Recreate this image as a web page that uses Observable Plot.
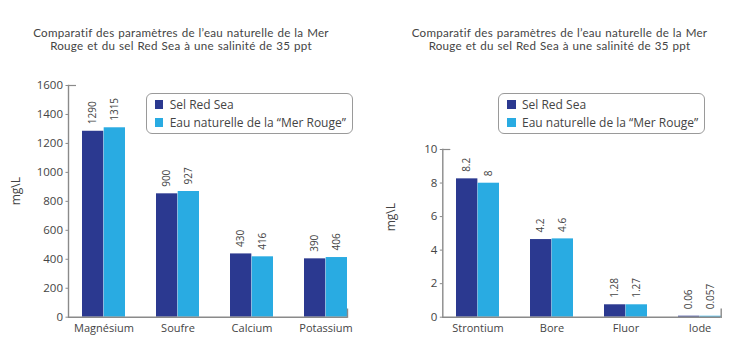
<!DOCTYPE html>
<html>
<head>
<meta charset="utf-8">
<script src="https://cdn.jsdelivr.net/npm/d3@7"></script>
<script src="https://cdn.jsdelivr.net/npm/@observablehq/plot@0.6"></script>
<style>
  html, body { margin: 0; padding: 0; background: #fff; }
  #root { position: relative; width: 738px; height: 356px; font-family: "Open Sans", sans-serif; color: #444; overflow: hidden; }
  .panel { position: absolute; top: 0; }
  .title { position: absolute; font-family: Lato, "Open Sans", sans-serif; font-size: 11.6px; line-height: 11.6px; height: 11.6px; letter-spacing: 0.25px; word-spacing: 0.6px; text-align: center; white-space: nowrap; transform: translateX(-50%); color: #444; }
  .legend { position: absolute; width: 205px; height: 39px; border: 1px solid #9a9a9a; border-radius: 6px; background: #fff; font-size: 12px; color: #444; }
  .legend .row { position: absolute; left: 8px; height: 12px; line-height: 12px; white-space: nowrap; }
  .legend .sw { display: inline-block; width: 8.5px; height: 8.5px; vertical-align: 0px; margin-right: 6.5px; }
</style>
</head>
<body>
<div id="root"></div>
<script>
// ---- data ----
const titleLines = ["Comparatif des paramètres de l’eau naturelle de la Mer", "Rouge et du sel Red Sea à une salinité de 35 ppt"];
const seriesNames = ["Sel Red Sea", "Eau naturelle de la “Mer Rouge”"];
const seriesColors = ["#2b3990", "#29abe2"];
const yLabel = "mg\\L";

const catsA = ["Magnésium", "Soufre", "Calcium", "Potassium"];
const selA = [1284, 852, 437, 403];
const eauA = [1308, 868, 417, 412];
const selLabelsA = ["1290", "900", "430", "390"];
const eauLabelsA = ["1315", "927", "416", "406"];
const ticksA = [0, 200, 400, 600, 800, 1000, 1200, 1400, 1600];

const catsB = ["Strontium", "Bore", "Fluor", "Iode"];
const selB = [8.25, 4.63, 0.74, 0.06];
const eauB = [7.99, 4.67, 0.74, 0.057];
const selLabelsB = ["8.2", "4.2", "1.28", "0.06"];
const eauLabelsB = ["8", "4.6", "1.27", "0.057"];
const ticksB = [0, 2, 4, 6, 8, 10];

// ---- chart builder ----
function chart({cats, sel, eau, selLabels, eauLabels, ticks, marginTop, marginLeft, marginRight, labelDy}) {
  const W = 369, H = 356, marginBottom = 39.3;
  const pi = 0.418, po = 0.0815;
  const range = W - marginLeft - marginRight;
  const step = range / (cats.length - pi + 2 * po);
  const bw = step * (1 - pi);
  const half = bw / 2;
  const plotH = H - marginTop - marginBottom;
  const rows = cats.map((c, i) => ({cat: c, sel: sel[i], eau: eau[i], sl: selLabels[i], el: eauLabels[i]}));
  const yMax = ticks[ticks.length - 1];
  const axisColor = "#8a8a8a";
  return Plot.plot({
    width: W, height: H,
    marginTop, marginBottom, marginLeft, marginRight,
    style: {fontFamily: "Open Sans, sans-serif", fontSize: "11.5px", color: "#444", background: "transparent"},
    x: {domain: cats, paddingInner: pi, paddingOuter: po, align: 1, axis: null},
    y: {domain: [0, yMax], axis: null},
    marks: [
      Plot.barY(rows, {x: "cat", y: "sel", fill: seriesColors[0], insetRight: half}),
      Plot.barY(rows, {x: "cat", y: "eau", fill: seriesColors[1], insetLeft: half}),
      Plot.text(rows, {x: "cat", y: "sel", text: "sl", rotate: -90, textAnchor: "start", dx: -half / 2, dy: -7, fontSize: 10, fill: "#444"}),
      Plot.text(rows, {x: "cat", y: "eau", text: "el", rotate: -90, textAnchor: "start", dx: half / 2, dy: -7, fontSize: 10, fill: "#444"}),
      Plot.axisY({ticks, tickSize: 2.5, tickPadding: 3, stroke: axisColor, fill: "#444", fontSize: 11.5, label: null, tickFormat: d => String(d)}),
      Plot.axisX({tickSize: 0, tickPadding: 7, fill: "#444", fontSize: 11, label: null}),
      Plot.ruleY([0], {stroke: axisColor, strokeWidth: 1.6}),
      Plot.ruleY([yMax], {stroke: axisColor, strokeWidth: 1.2, insetRight: range - 8}),
      Plot.frame({anchor: "left", stroke: axisColor, strokeWidth: 1.4}),
      Plot.frame({anchor: "right", stroke: axisColor, strokeWidth: 1.4, insetTop: plotH - 8}),
      Plot.text([yLabel], {frameAnchor: "left", rotate: -90, dx: -52, dy: labelDy, fontSize: 12, fill: "#444"})
    ]
  });
}

const root = document.getElementById("root");

function addPanel(left, svg) {
  const d = document.createElement("div");
  d.className = "panel";
  d.style.left = left + "px";
  d.appendChild(svg);
  root.appendChild(d);
}

function addTitle(center) {
  titleLines.forEach((line, i) => {
    const t = document.createElement("div");
    t.className = "title";
    t.style.left = center + "px";
    t.style.top = (26.8 + i * 13.4) + "px";
    t.textContent = line;
    root.appendChild(t);
  });
}

function addLegend(left, top) {
  const l = document.createElement("div");
  l.className = "legend";
  l.style.left = left + "px";
  l.style.top = top + "px";
  seriesNames.forEach((name, i) => {
    const r = document.createElement("div");
    r.className = "row";
    r.style.top = (5 + i * 18.3) + "px";
    const sw = document.createElement("span");
    sw.className = "sw";
    sw.style.background = seriesColors[i];
    r.appendChild(sw);
    r.appendChild(document.createTextNode(name));
    l.appendChild(r);
  });
  root.appendChild(l);
}

addPanel(0, chart({cats: catsA, sel: selA, eau: eauA, selLabels: selLabelsA, eauLabels: eauLabelsA, ticks: ticksA, marginTop: 85, marginLeft: 68, marginRight: 22, labelDy: 4}));
addPanel(369, chart({cats: catsB, sel: selB, eau: eauB, selLabels: selLabelsB, eauLabels: eauLabelsB, ticks: ticksB, marginTop: 149, marginLeft: 73.3, marginRight: 17.3, labelDy: -2}));
addTitle(181);
addTitle(559.5);
addLegend(145.7, 92.7);
addLegend(498, 92.7);
</script>
</body>
</html>
